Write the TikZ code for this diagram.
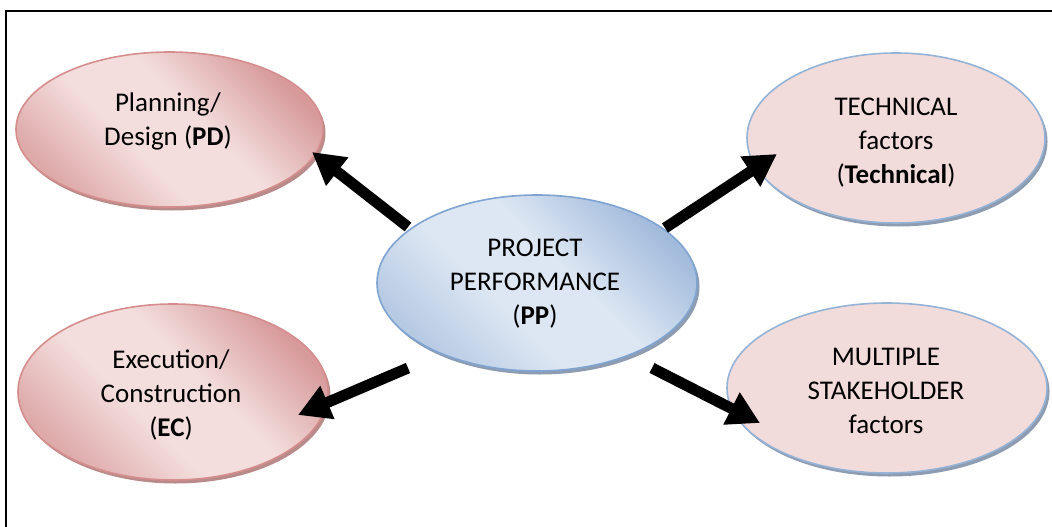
\documentclass[tikz,border=0pt]{standalone}
\usepackage{fontspec}
\setmainfont{Carlito}
\usetikzlibrary{shapes.geometric,arrows.meta,shadows}

\definecolor{pinklight}{HTML}{F3DEDD}
\definecolor{pinkdarkA}{HTML}{D7999A}
\definecolor{pinkdarkB}{HTML}{DEA9A9}
\definecolor{pinkline}{HTML}{D58E8D}
\definecolor{pinkshadow}{HTML}{B98A8A}
\definecolor{bluelight}{HTML}{DDE7F3}
\definecolor{bluedarkA}{HTML}{A2BBDC}
\definecolor{bluedarkB}{HTML}{B7CAE4}
\definecolor{blueline}{HTML}{7FA4D2}
\definecolor{blueshadow}{HTML}{8E9CB1}
\definecolor{factorfill}{HTML}{F2DCDB}
\definecolor{factorline}{HTML}{95B3D7}

% two-sided band shadings: darker towards both ends, light band across the middle
\pgfdeclarehorizontalshading{pinkband}{100bp}{color(0bp)=(pinkdarkB); color(25bp)=(pinkdarkB);
  color(42bp)=(pinklight); color(56bp)=(pinklight); color(75bp)=(pinkdarkA); color(100bp)=(pinkdarkA)}
\pgfdeclarehorizontalshading{blueband}{100bp}{color(0bp)=(bluedarkB); color(25bp)=(bluedarkB);
  color(42bp)=(bluelight); color(56bp)=(bluelight); color(75bp)=(bluedarkA); color(100bp)=(bluedarkA)}

\begin{document}
\begin{tikzpicture}[x=1pt,y=-1pt,
  blob/.style={ellipse, inner sep=0pt, line width=1.6pt},
  redblob/.style={blob, draw=pinkline, shade, shading=pinkband, shading angle=45,
    drop shadow={shadow xshift=2.5pt, shadow yshift=-3.5pt, fill=pinkshadow, opacity=1}},
  blueblob/.style={blob, draw=blueline, shade, shading=blueband, shading angle=45,
    drop shadow={shadow xshift=2.5pt, shadow yshift=-3.5pt, fill=blueshadow, opacity=1}},
  factorblob/.style={blob, draw=factorline, fill=factorfill,
    drop shadow={shadow xshift=2.5pt, shadow yshift=-3.5pt, fill=blueshadow, opacity=1}},
  txt/.style={align=center, inner sep=0pt, font=\fontsize{27}{34}\selectfont},
  bigarrow/.style={line width=11pt, -{Triangle[length=32pt,width=34pt]}}
]
\useasboundingbox (0,0) rectangle (1052,527);

% outer frame (runs past the right and bottom edges)
\draw[line width=2.5pt] (6,560) -- (6,11) -- (1080,11);

% ellipses
\node[redblob, minimum width=307pt, minimum height=155pt] (pd) at (169.5,129.5) {};
\node[redblob, minimum width=310pt, minimum height=176pt] (ec) at (173,392) {};
\node[factorblob, minimum width=298pt, minimum height=170pt] (tech) at (896,138) {};
\node[factorblob, minimum width=320pt, minimum height=170pt] (ms) at (887,388) {};
\node[blueblob, minimum width=320pt, minimum height=176pt] (pp) at (537,283) {};

% labels
\node[txt] (pdlabel) at (168,121) {Planning/\\Design (\textbf{PD})};
\node[txt] (eclabel) at (171,395) {Execution/\\Construction\\(\textbf{EC})};
\node[txt] (techlabel) at (896,143) {TECHNICAL\\factors\\(\textbf{Technical})};
\node[txt] (mslabel) at (886,391) {MULTIPLE\\STAKEHOLDER\\factors};
\node[txt] (pplabel) at (535,284) {PROJECT\\PERFORMANCE\\(\textbf{PP})};

% arrow end points
\coordinate (pdtail) at (408,227);
\coordinate (pdtip) at (312,152);
\coordinate (techtail) at (665,228);
\coordinate (techtip) at (777,154);
\coordinate (ectail) at (408,368);
\coordinate (ectip) at (298,415);
\coordinate (mstail) at (652,368);
\coordinate (mstip) at (760,423);

% arrows
\draw[bigarrow] (pdtail) -- (pdtip);
\draw[bigarrow] (techtail) -- (techtip);
\draw[bigarrow] (ectail) -- (ectip);
\draw[bigarrow] (mstail) -- (mstip);
\end{tikzpicture}
\end{document}
